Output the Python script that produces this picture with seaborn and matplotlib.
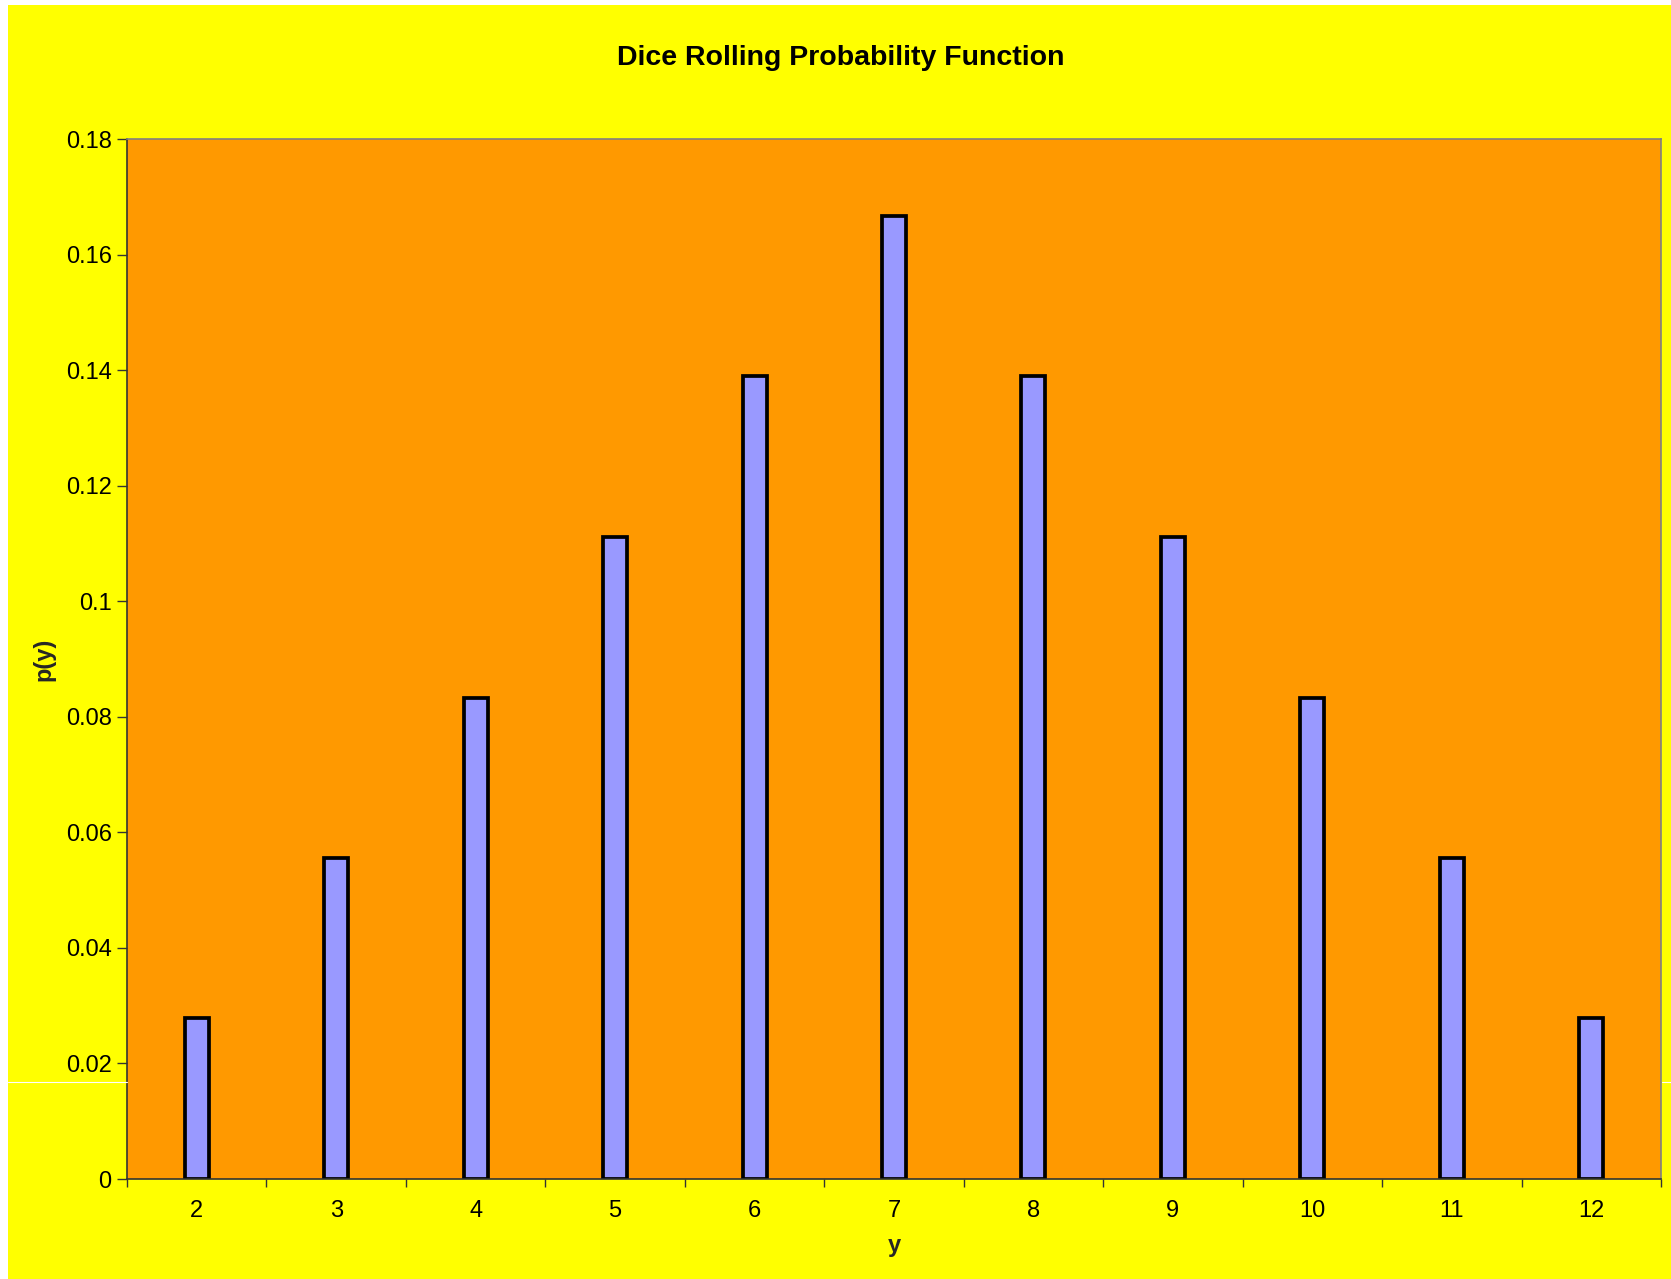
import matplotlib
matplotlib.use("Agg")
import matplotlib.pyplot as plt
import seaborn as sns
import pandas as pd
import numpy as np
from matplotlib.ticker import FixedLocator, FuncFormatter
from matplotlib.patches import Rectangle
from matplotlib.lines import Line2D

# Data
outcomes = ["2", "3", "4", "5", "6", "7", "8", "9", "10", "11", "12"]
probabilities = [0.0278, 0.0556, 0.0833, 0.1111, 0.1389, 0.1667,
                 0.1389, 0.1111, 0.0833, 0.0556, 0.0278]
y_ticks = [0, 0.02, 0.04, 0.06, 0.08, 0.1, 0.12, 0.14, 0.16, 0.18]

title_text = "Dice Rolling Probability Function"
x_label = "y"
y_label = "p(y)"

df = pd.DataFrame({"y": outcomes, "p": probabilities})

sns.set_theme(style="white")
plt.rcParams["font.family"] = ["Liberation Sans", "DejaVu Sans"]

W, H, DPI = 1671, 1279, 100
fig = plt.figure(figsize=(W / DPI, H / DPI), dpi=DPI)
fig.patch.set_facecolor("white")
# yellow chart area (white strip at left/top as in reference)
fig.patches.append(Rectangle((8 / W, 0), 1 - 8 / W, 1 - 5 / H,
                             transform=fig.transFigure, facecolor="#FFFF00",
                             edgecolor="none", zorder=-10))
# thin white artefact lines seen in the reference
for x0, x1 in [(8, 127), (1662, 1671)]:
    fig.lines.append(Line2D([x0 / W, x1 / W], [1 - 1082 / H, 1 - 1082 / H],
                            transform=fig.transFigure, color="white", lw=0.8))

ax = fig.add_axes([127 / W, 1 - 1179 / H, (1661 - 127) / W, (1179 - 139) / H])
ax.set_facecolor("#FF9900")

sns.barplot(data=df, x="y", y="p", ax=ax, color="#9999FF", saturation=1,
            width=0.172, edgecolor="black", linewidth=2.7, order=outcomes)
for p in ax.patches:
    p.set_facecolor("#9999FF")
    p.set_edgecolor("black")
    p.set_linewidth(2.7)

ax.set_xlim(-0.5, len(outcomes) - 0.5)
ax.set_ylim(0, 0.18)
ax.yaxis.set_major_locator(FixedLocator(y_ticks))
ax.yaxis.set_major_formatter(FuncFormatter(lambda v, pos: "%g" % round(v, 2)))

ax.xaxis.set_minor_locator(FixedLocator(np.arange(-0.5, len(outcomes), 1.0)))
ax.tick_params(axis="x", which="major", length=0, pad=15, labelsize=17, colors="black")
ax.tick_params(axis="x", which="minor", length=6, width=1, color="#333333", direction="out", bottom=True)
ax.tick_params(axis="y", which="major", length=7, width=1, color="#333333", direction="out",
               left=True, pad=4, labelsize=17, labelcolor="black")

for side in ["left", "bottom"]:
    ax.spines[side].set_color("#333333")
    ax.spines[side].set_linewidth(1.2)
for side in ["top", "right"]:
    ax.spines[side].set_color("#808080")
    ax.spines[side].set_linewidth(1.2)
    ax.spines[side].set_visible(True)

ax.set_xlabel(x_label, fontsize=17, fontweight="bold", labelpad=9)
ax.set_ylabel(y_label, fontsize=17, fontweight="bold")
ax.yaxis.set_label_coords((55 - 127) / 1534, 0.5)

fig.text(841 / W, 1 - 58 / H, title_text, ha="center", va="center",
         fontsize=20.5, fontweight="bold", color="black")

fig.savefig("out.png", dpi=DPI, facecolor=fig.get_facecolor())
